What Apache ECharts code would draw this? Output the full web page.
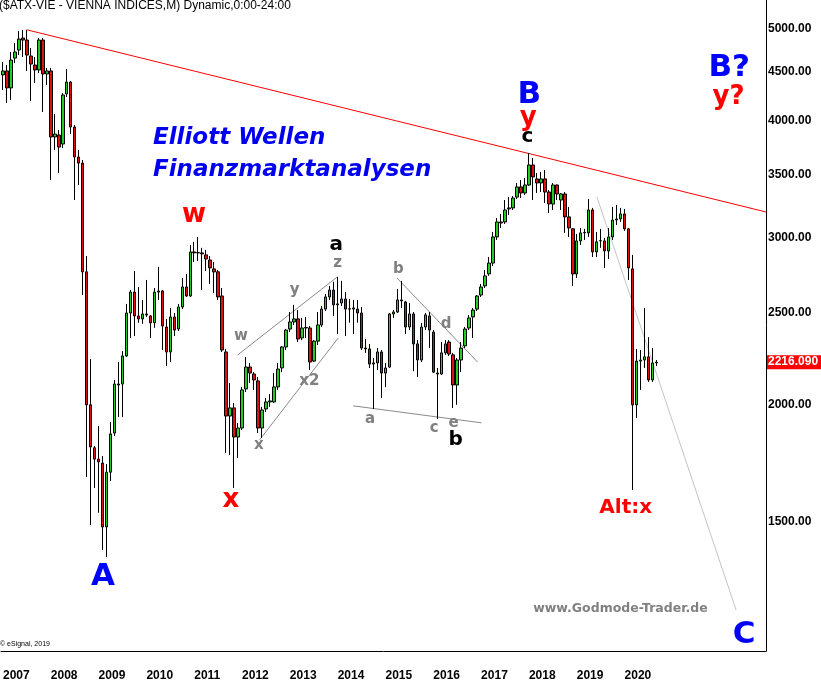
<!DOCTYPE html>
<html><head><meta charset="utf-8">
<script src="https://cdn.jsdelivr.net/npm/echarts@6/dist/echarts.min.js"></script>
<style>html,body{margin:0;padding:0;background:#fff}#c{width:821px;height:682px}</style>
</head><body><div id="c"></div>
<script>
// ---- monthly candles [open, close, low, high] ----
const ohlc2007 = [[4470,4513,4308,4612],[4513,4330,4174,4580],[4330,4635,4204,4727],[4657,4727,4601,4831],[4750,4879,4692,4976],[4891,4867,4669,4988],[4867,4692,4513,4990],[4681,4590,4194,4773],[4579,4524,4382,4669],[4524,4867,4491,4891],[4867,4480,4083,4891],[4480,4513,4361,4546]];
const ohlc2008 = [[4513,3841,3458,4546],[3841,3869,3721,4063],[3860,3748,3518,3907],[3776,4256,3739,4276],[4266,4392,4235,4535],[4392,3936,3869,4403],[3936,3658,3293,3955],[3658,3604,3416,3721],[3604,2763,2611,3631],[2763,1997,1674,2872],[1997,1802,1489,2233],[1798,1749,1630,1806]];
const ohlc2009 = [[1749,1737,1534,1896],[1732,1482,1401,1762],[1482,1694,1377,1728],[1694,1860,1658,1915],[1864,2101,1851,2122],[2101,2096,1938,2217],[2101,2250,1938,2277],[2250,2499,2244,2555],[2499,2630,2351,2643],[2630,2481,2362,2769],[2481,2463,2440,2663],[2463,2493,2434,2580]];
const ohlc2010 = [[2493,2487,2475,2709],[2481,2440,2351,2487],[2440,2630,2410,2656],[2630,2637,2580,2797],[2637,2421,2283,2643],[2415,2272,2195,2463],[2272,2475,2217,2530],[2475,2397,2362,2499],[2403,2536,2391,2555],[2536,2663,2523,2722],[2663,2605,2599,2749],[2605,2901,2599,2951]];
const ohlc2011 = [[2901,2894,2830,2973],[2894,2896,2837,3009],[2894,2887,2643,2930],[2880,2851,2769,2915],[2844,2790,2683,2872],[2783,2763,2624,2830],[2763,2599,2580,2776],[2605,2283,2272,2656],[2272,1943,1776,2289],[1943,1982,1767,2106],[1982,1846,1630,2006],[1846,1887,1754,1910]];
const ohlc2012 = [[1887,2071,1878,2086],[2076,2190,2060,2244],[2190,2158,2107,2212],[2153,2122,2071,2163],[2117,1887,1864,2137],[1887,1972,1842,1987],[1977,2011,1962,2031],[2011,2016,1987,2050],[2011,2086,2006,2158],[2086,2179,2071,2212],[2185,2300,2163,2305],[2300,2397,2283,2403]];
const ohlc2013 = [[2403,2445,2385,2505],[2445,2463,2427,2549],[2463,2345,2328,2517],[2351,2409,2339,2469],[2409,2412,2351,2475],[2409,2217,2174,2421],[2222,2333,2217,2339],[2333,2427,2311,2505],[2427,2523,2415,2542],[2523,2599,2511,2618],[2599,2643,2580,2670],[2643,2549,2481,2697]];
const ohlc2014 = [[2549,2555,2374,2729],[2561,2586,2542,2703],[2586,2523,2362,2630],[2523,2525,2440,2586],[2523,2530,2374,2580],[2523,2499,2440,2580],[2499,2294,2283,2536],[2294,2289,2267,2345],[2289,2206,2185,2317],[2212,2206,1977,2239],[2212,2272,2174,2294],[2272,2158,2031,2283]];
const ohlc2015 = [[2158,2185,2086,2212],[2190,2493,2185,2499],[2493,2505,2469,2517],[2505,2580,2499,2650],[2580,2574,2530,2703],[2567,2415,2374,2574],[2415,2493,2397,2561],[2493,2317,2168,2505],[2317,2228,2137,2339],[2228,2415,2217,2439],[2415,2487,2397,2499],[2481,2397,2294,2505]];
const ohlc2016 = [[2385,2163,2158,2397],[2158,2153,1929,2185],[2153,2267,2148,2328],[2267,2317,2256,2339],[2328,2261,2250,2339],[2256,2096,1982,2267],[2096,2228,1997,2239],[2228,2294,2163,2328],[2306,2403,2294,2415],[2409,2469,2397,2487],[2475,2517,2351,2530],[2523,2605,2511,2611]];
const ohlc2017 = [[2611,2663,2599,2683],[2670,2736,2656,2776],[2749,2823,2736,2865],[2823,3009,2803,3046],[3009,3121,2987,3152],[3121,3113,3076,3183],[3121,3214,3106,3293],[3222,3230,3175,3317],[3230,3309,3214,3325],[3317,3400,3301,3433],[3400,3350,3309,3458],[3350,3416,3334,3476]];
const ohlc2018 = [[3416,3587,3408,3694],[3587,3484,3293,3649],[3467,3433,3350,3518],[3433,3467,3358,3527],[3467,3358,3269,3544],[3358,3261,3190,3375],[3261,3416,3214,3433],[3416,3342,3293,3420],[3293,3342,3214,3350],[3342,3160,3039,3358],[3160,3076,3009,3238],[3069,2749,2670,3076]];
const ohlc2019 = [[2749,2980,2722,3031],[2980,3039,2951,3076],[3039,3042,2987,3069],[3039,3214,3009,3301],[3214,2901,2865,3230],[2901,2973,2865,3046],[2980,2982,2930,3069],[2980,2908,2790,3002],[2908,3009,2851,3076],[3009,3136,2987,3238],[3136,3144,3098,3254],[3144,3183,3121,3230]];
const ohlc2020 = [[3183,3069,3054,3222],[3069,2790,2709,3076],[2783,1997,1622,2880],[1997,2222,1934,2289],[2222,2228,2071,2283],[2228,2245,2185,2530],[2245,2122,2112,2356],[2122,2212,2112,2294],[2212,2216.09,2195,2228]];

const firstYear = 2007, lastCategoryYear = 2022, lastLabelYear = 2020;
const yTickValues = [1500, 2000, 2500, 3000, 3500, 4000, 4500, 5000];
const yMin = 1094.6, yMax = 5367;
const lastPrice = 2216.09;

// trend lines: [monthIndex (0 = Jan 2007), value]
const redTrend = [[6, 4990], [191.5, 3198]];
const greyTrends = [
  [[58.93, 2256], [83.9, 2729]],
  [[64.4, 1833], [84.14, 2351]],
  [[87.9, 1992], [120.1, 1911]],
  [[98.88, 2722], [119.1, 2217]]
];
const lightTrend = [[149.06, 3318], [184.0, 1210]];

// wave labels: [monthIndex, value, text]
const labelsBlue = [[25.09, 1310, 'A'], [132.08, 4256, 'B'], [182.27, 4546, 'B?'], [186.0, 1138, 'C']];
const labelsRed = [[47.94, 3175, 'w'], [57.18, 1583, 'x'], [131.8, 4023, 'y'], [182.1, 4230, 'y?']];
const labelsAlt = [[156.3, 1552, 'Alt:x']];
const labelsBlack = [[83.65, 2951, 'a'], [113.6, 1833, 'b'], [131.6, 3841, 'c']];
const labelsGrey = [[84.0, 2823, 'z'], [73.2, 2643, 'y'], [59.7, 2362, 'w'], [76.9, 2117, 'x2'], [64.2, 1811, 'x'],
  [92.1, 1929, 'a'], [99.25, 2779, 'b'], [111.2, 2430, 'd'], [108.2, 1887, 'c'], [113.1, 1908, 'e']];

const candles = [].concat(ohlc2007, ohlc2008, ohlc2009, ohlc2010, ohlc2011, ohlc2012, ohlc2013,
  ohlc2014, ohlc2015, ohlc2016, ohlc2017, ohlc2018, ohlc2019, ohlc2020);
const months = [];
for (let y = firstYear; y <= lastCategoryYear; y++) for (let m = 1; m <= 12; m++) months.push(y + '-' + (m < 10 ? '0' : '') + m);

const AX = 'Liberation Sans';
function lineSeries(data, color) {
  return { type: 'line', xAxisIndex: 1, yAxisIndex: 0, data: data, symbol: 'none', silent: true,
    lineStyle: { color: color, width: 1 }, z: 3, animation: false };
}
function labelSeries(data, color, size) {
  return { type: 'scatter', xAxisIndex: 1, yAxisIndex: 0, data: data, symbolSize: 1, silent: true, clip: false,
    itemStyle: { color: 'rgba(0,0,0,0)', opacity: 1 }, z: 5, animation: false,
    label: { show: true, position: 'inside', formatter: p => p.value[2], color: color, opacity: 1,
      fontFamily: 'DejaVu Sans', fontWeight: 'bold', fontSize: size } };
}

const chart = echarts.init(document.getElementById('c'), null, { renderer: 'canvas' });
const series = [
  { type: 'candlestick', xAxisIndex: 0, yAxisIndex: 0, data: candles, barWidth: 3, z: 4, animation: false,
    itemStyle: { color: '#22cc22', color0: '#dd1111', borderColor: '#000', borderColor0: '#000', borderColorDoji: '#000', borderWidth: 1 },
    markLine: { silent: true, symbol: ['none', 'none'], animation: false,
      lineStyle: { color: 'rgba(0,0,0,0)', width: 0 },
      label: { show: true, position: 'end', formatter: lastPrice.toFixed(3), color: '#fff', backgroundColor: '#ff0000',
        fontFamily: AX, fontWeight: 'bold', fontSize: 12, padding: [1, 3, 1, 1], distance: 1 },
      data: [{ yAxis: lastPrice }] } },
  lineSeries(redTrend, '#ff0000')
];
greyTrends.forEach(t => series.push(lineSeries(t, '#8a8a8a')));
series.push(lineSeries(lightTrend, '#c4c4c4'));
series.push(labelSeries(labelsBlue, '#0000ff', 31));
series.push(labelSeries(labelsRed, '#ff0000', 26));
series.push(labelSeries(labelsAlt, '#ff0000', 20));
series.push(labelSeries(labelsBlack, '#000000', 20));
series.push(labelSeries(labelsGrey, '#808080', 15));

chart.setOption({
  animation: false,
  backgroundColor: '#ffffff',
  textStyle: { fontFamily: AX },
  grid: { left: -3, right: 55, top: 0, bottom: 31, containLabel: false },
  xAxis: [
    { type: 'category', data: months, boundaryGap: true,
      axisLine: { show: true, onZero: false, lineStyle: { color: '#000', width: 1 } }, axisTick: { show: false }, splitLine: { show: false },
      axisLabel: { interval: (i) => i % 12 === 0 && (firstYear + i / 12) <= lastLabelYear,
        formatter: v => v.slice(0, 4), align: 'left', margin: 19, color: '#000', fontWeight: 'bold', fontSize: 12, fontFamily: AX } },
    { type: 'value', min: -0.5, max: 191.5, show: false, axisLine: { onZero: false } }
  ],
  yAxis: [
    { type: 'log', logBase: 10, position: 'right', min: yMin, max: yMax,
      axisLine: { show: true, onZero: false, lineStyle: { color: '#000', width: 1 } }, axisTick: { show: false }, splitLine: { show: false },
      axisLabel: { customValues: yTickValues, formatter: v => Number(v).toFixed(2), margin: 2, color: '#000',
        fontWeight: 'bold', fontSize: 12, fontFamily: AX } }
  ],
  graphic: [
    { type: 'text', x: -1, y: 6, silent: true, style: { text: '($ATX-VIE - VIENNA INDICES,M) Dynamic,0:00-24:00', font: '12px "Liberation Sans"', fill: '#000', verticalAlign: 'middle' } },
    { type: 'text', x: 153, y: 138, silent: true, style: { text: 'Elliott Wellen', font: 'italic bold 23px "DejaVu Sans"', fill: '#0000f0', verticalAlign: 'middle' } },
    { type: 'text', x: 153, y: 170, silent: true, style: { text: 'Finanzmarktanalysen', font: 'italic bold 23px "DejaVu Sans"', fill: '#0000f0', verticalAlign: 'middle' } },
    { type: 'text', x: 620.5, y: 609, silent: true, style: { text: 'www.Godmode-Trader.de', font: 'bold 12.5px "DejaVu Sans"', fill: '#808080', align: 'center', verticalAlign: 'middle' } },
    { type: 'text', x: 0, y: 644, silent: true, style: { text: '\u00a9 eSignal, 2019', font: '7px "Liberation Sans"', fill: '#000', verticalAlign: 'middle' } }
  ],
  series: series
});
</script></body></html>
